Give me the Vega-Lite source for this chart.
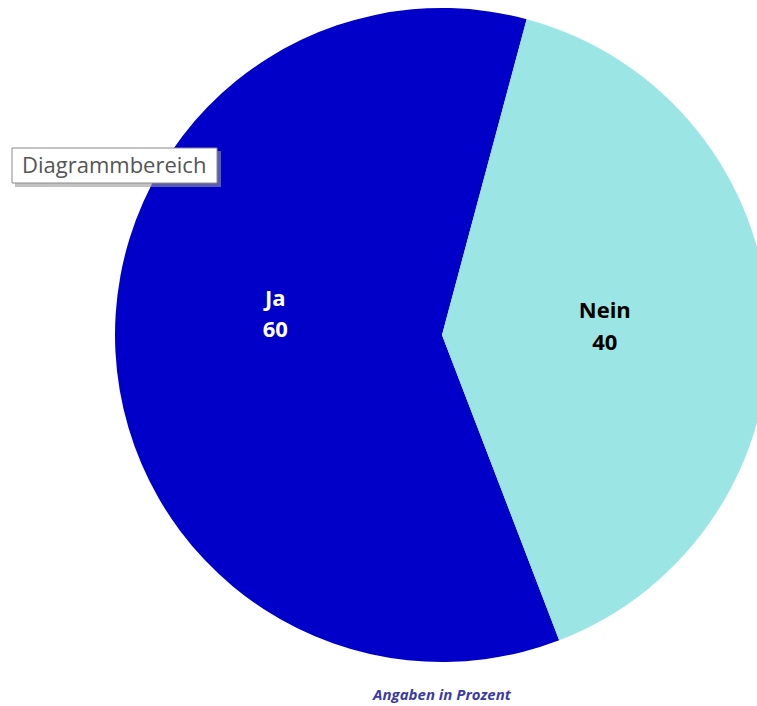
{
  "$schema": "https://vega.github.io/schema/vega-lite/v6.json",
  "width": 757,
  "height": 706,
  "autosize": "none",
  "padding": 0,
  "background": "#ffffff",
  "config": {"view": {"stroke": null}},
  "layer": [
    {
      "data": {"values": [
        {"category": "Ja", "value": 60},
        {"category": "Nein", "value": 40}
      ]},
      "encoding": {
        "theta": {"field": "value", "type": "quantitative", "stack": true, "scale": {"domain": [0, 100], "range": [0.2618, 6.545]}},
        "order": {"field": "value", "type": "quantitative", "sort": "ascending"}
      },
      "layer": [
        {
          "mark": {"type": "arc", "x": 442, "y": 335, "outerRadius": 327, "stroke": null},
          "encoding": {
            "color": {"field": "category", "type": "nominal", "legend": null,
              "scale": {"domain": ["Ja", "Nein"], "range": ["#0000C8", "#9BE6E4"]}}
          }
        },
        {
          "mark": {"type": "text", "x": 442, "y": 335, "radius": 167, "dy": -45, "font": "Open Sans", "fontWeight": "bold", "fontSize": 22, "fill": "#ffffff", "baseline": "middle", "align": "center"},
          "encoding": {"text": {"condition": {"test": "datum.category === 'Ja'", "field": "category"}, "value": ""}}
        },
        {
          "mark": {"type": "text", "x": 442, "y": 335, "radius": 167, "dy": -14, "font": "Open Sans", "fontWeight": "bold", "fontSize": 22, "fill": "#ffffff", "baseline": "middle", "align": "center"},
          "encoding": {"text": {"condition": {"test": "datum.category === 'Ja'", "field": "value", "type": "quantitative"}, "value": ""}}
        },
        {
          "mark": {"type": "text", "x": 442, "y": 335, "radius": 163, "dy": -15, "font": "Open Sans", "fontWeight": "bold", "fontSize": 22, "fill": "#000000", "baseline": "middle", "align": "center"},
          "encoding": {"text": {"condition": {"test": "datum.category === 'Nein'", "field": "category"}, "value": ""}}
        },
        {
          "mark": {"type": "text", "x": 442, "y": 335, "radius": 163, "dy": 17, "font": "Open Sans", "fontWeight": "bold", "fontSize": 22, "fill": "#000000", "baseline": "middle", "align": "center"},
          "encoding": {"text": {"condition": {"test": "datum.category === 'Nein'", "field": "value", "type": "quantitative"}, "value": ""}}
        }
      ]
    },
    {
      "data": {"values": [{"note": "Angaben in Prozent"}]},
      "mark": {"type": "text", "x": 442, "y": 688, "font": "Open Sans", "fontStyle": "italic", "fontWeight": "bold", "fontSize": 15, "fill": "#3C3CA0", "baseline": "top", "align": "center"},
      "encoding": {"text": {"field": "note", "type": "nominal"}}
    },
    {
      "data": {"values": [{"tip": "Diagrammbereich"}]},
      "mark": {"type": "rect", "x": 15, "x2": 221, "y": 151, "y2": 187, "fill": "#9a9a9a", "opacity": 0.6},
      "encoding": {}
    },
    {
      "data": {"values": [{"tip": "Diagrammbereich"}]},
      "mark": {"type": "rect", "x": 12, "x2": 217, "y": 148, "y2": 183, "fill": "#ffffff", "stroke": "#8a8a8a", "strokeWidth": 1},
      "encoding": {}
    },
    {
      "data": {"values": [{"tip": "Diagrammbereich"}]},
      "mark": {"type": "text", "x": 22, "y": 166, "font": "Open Sans", "fontSize": 22, "fill": "#555555", "baseline": "middle", "align": "left"},
      "encoding": {"text": {"field": "tip", "type": "nominal"}}
    }
  ]
}
